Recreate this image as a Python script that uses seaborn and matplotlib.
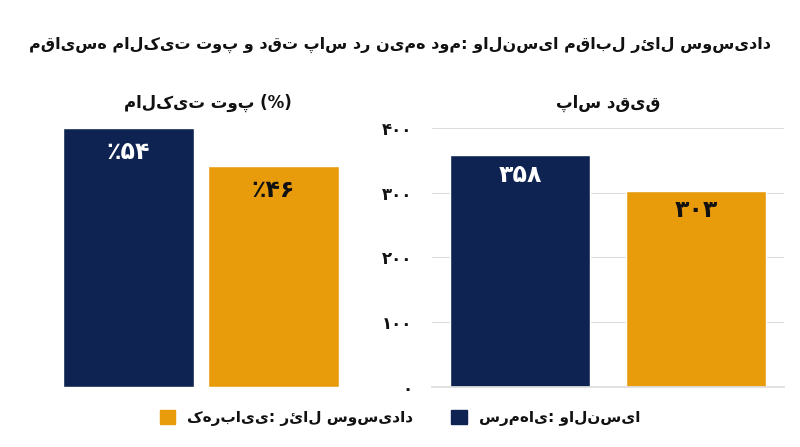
import pandas as pd
import seaborn as sns
import matplotlib.pyplot as plt
from matplotlib.patches import Patch

teams = ['والنسیا', 'رئال سوسیداد']
possession = [54, 46]
passes = [358, 303]
possession_labels = ['٪۵۴', '٪۴۶']
passes_labels = ['۳۵۸', '۳۰۳']
pass_ticks = [0, 100, 200, 300, 400]
pass_tick_labels = ['۰', '۱۰۰', '۲۰۰', '۳۰۰', '۴۰۰']
colors = ['#0e2352', '#e89c0c']

sns.set_theme(style='white')
plt.rcParams['font.family'] = ['DejaVu Sans']
plt.rcParams['text.color'] = '#111111'

df = pd.DataFrame({'Team': teams, 'Possession': possession, 'Passes': passes})

fig = plt.figure(figsize=(8, 4.47), dpi=100)
ax1 = fig.add_axes([0.07, 0.134, 0.3625, 0.58])
ax2 = fig.add_axes([0.54, 0.134, 0.44, 0.58])

sns.barplot(data=df, x='Team', y='Possession', hue='Team', palette=colors,
            saturation=1, width=0.9, ax=ax1, legend=False)
ax1.set_ylim(0, 54)
ax1.set_yticks([])
for i, (v, lab) in enumerate(zip(possession, possession_labels)):
    ax1.text(i, v - 5, lab, ha='center', va='center', fontsize=17, fontweight='bold',
             color='white' if i == 0 else '#111111')

sns.barplot(data=df, x='Team', y='Passes', hue='Team', palette=colors,
            saturation=1, width=0.8, ax=ax2, legend=False)
ax2.set_ylim(0, 400)
ax2.set_yticks(pass_ticks)
ax2.set_yticklabels(pass_tick_labels, fontsize=12, fontweight='bold', color='#111111')
ax2.yaxis.grid(True, color='#dddddd', linewidth=0.8)
ax2.set_axisbelow(True)
ax2.tick_params(axis='y', length=0, pad=14)
for i, (v, lab) in enumerate(zip(passes, passes_labels)):
    ax2.text(i, v - 30, lab, ha='center', va='center', fontsize=17, fontweight='bold',
             color='white' if i == 0 else '#111111')

for ax in (ax1, ax2):
    ax.set_xlabel('')
    ax.set_ylabel('')
    ax.set_xticks([])
    for s in ax.spines.values():
        s.set_visible(False)
ax2.spines['bottom'].set_visible(True)
ax2.spines['bottom'].set_color('#dddddd')

fig.text(0.5, 0.9, 'مقایسه مالکیت توپ و دقت پاس در نیمه دوم: والنسیا مقابل رئال سوسیداد',
         ha='center', va='center', fontsize=11.5, fontweight='bold')
fig.text(0.26, 0.77, 'مالکیت توپ (%)', ha='center', va='center', fontsize=12, fontweight='bold')
fig.text(0.76, 0.77, 'پاس دقیق', ha='center', va='center', fontsize=12, fontweight='bold')

handles = [Patch(color=colors[1]), Patch(color=colors[0])]
fig.legend(handles, ['کهربایی: رئال سوسیداد', 'سرمه‌ای: والنسیا'], loc='center',
           bbox_to_anchor=(0.5, 0.065), ncol=2, frameon=False,
           handlelength=1, handleheight=1, columnspacing=2.5,
           prop={'weight': 'bold', 'size': 11})

fig.savefig('out.png', dpi=100)
